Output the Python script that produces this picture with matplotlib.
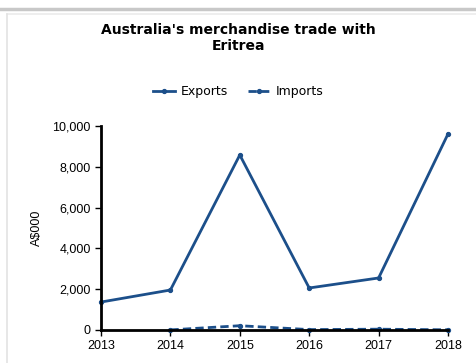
import matplotlib.pyplot as plt
from matplotlib.lines import Line2D
from matplotlib.ticker import FuncFormatter
import numpy as np

years = [2013, 2014, 2015, 2016, 2017, 2018]
exports = [1370, 1960, 8580, 2060, 2550, 9610]
import_years = [2014, 2015, 2016, 2017, 2018]
imports = [5, 210, 20, 40, 10]

blue = '#1c4f8a'

fig = plt.figure(figsize=(4.77, 3.63), dpi=100)
fig.patch.set_facecolor('white')

# panel border: grey bar on top and a faint line down the left
fig.add_artist(Line2D([0, 1], [1 - 9 / 363, 1 - 9 / 363], color='#c8c8c8', lw=2.5))
fig.add_artist(Line2D([0.015, 1], [1 - 14 / 363, 1 - 14 / 363], color='#ebebeb', lw=1.2))
fig.add_artist(Line2D([7 / 477, 7 / 477], [0, 1 - 14 / 363], color='#e3e3e3', lw=1.2))

ax = fig.add_axes([101 / 477, 33 / 363, 347 / 477, 204 / 363])
ax.plot(years, exports, color=blue, lw=2, marker='o', ms=2.8, label='Exports')
ax.plot(import_years, imports, color=blue, lw=2, ls=(0, (3, 1.5)), marker='o', ms=2.8,
        label='Imports')

ax.set_xlim(2013, 2018)
ax.set_ylim(0, 10000)
ax.set_yticks(np.arange(0, 10001, 2000))
ax.set_xticks(years)
ax.yaxis.set_major_formatter(FuncFormatter(lambda v, p: f'{int(v):,}'))
for s in ['top', 'right']:
    ax.spines[s].set_visible(False)
for s in ['left', 'bottom']:
    ax.spines[s].set_linewidth(2)
ax.tick_params(axis='both', labelsize=9, length=4, width=1, direction='out')
for lab in ax.get_xticklabels() + ax.get_yticklabels():
    lab.set_family('Liberation Sans')
ax.set_ylabel('A$000', fontsize=9, family='Liberation Sans', labelpad=7)
ax.set_facecolor('white')
for ln in ax.lines:
    ln.set_clip_on(False)

fig.text(0.5, 1 - 38 / 363, "Australia's merchandise trade with\nEritrea", ha='center',
         va='center', fontsize=10, fontweight='bold', family='DejaVu Sans', linespacing=1.15)

fig.legend(handles=ax.lines, loc='center', bbox_to_anchor=(0.5, 1 - 92 / 363), ncol=2,
           frameon=False, handlelength=1.7, handletextpad=0.5, columnspacing=1.6,
           prop={'family': 'DejaVu Sans', 'size': 9})

fig.savefig('out.png', dpi=100)
